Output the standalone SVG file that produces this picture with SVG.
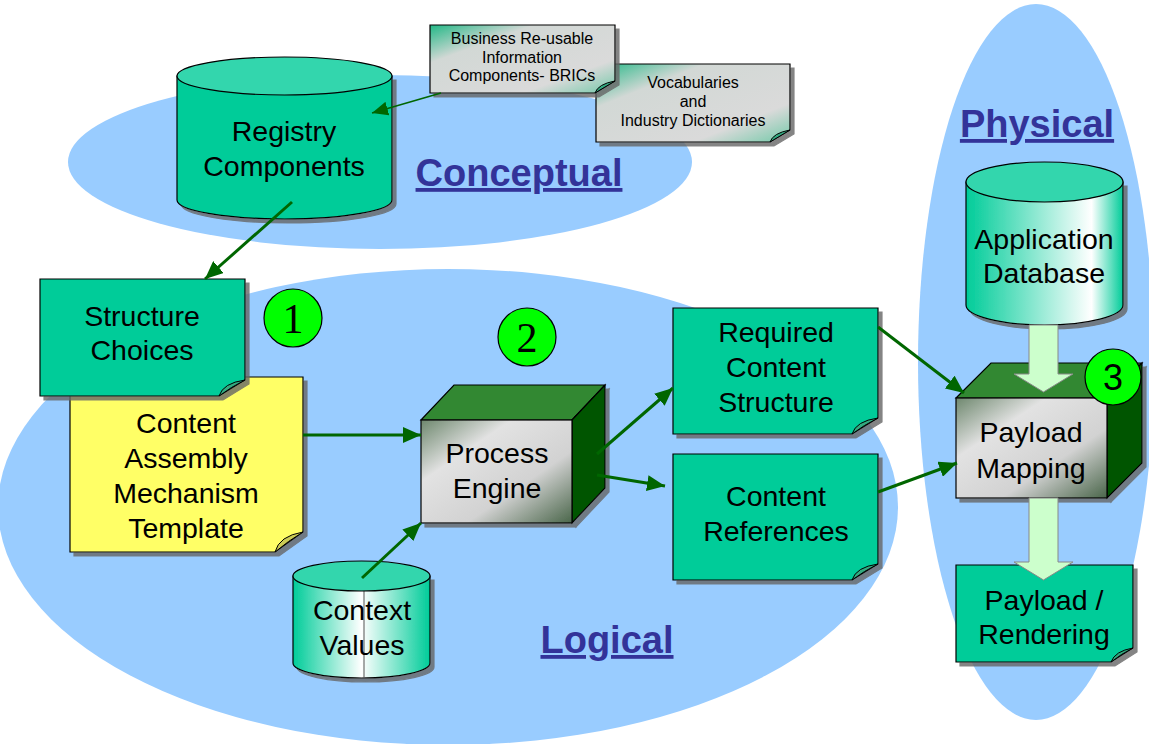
<svg xmlns="http://www.w3.org/2000/svg" width="1149" height="744" viewBox="0 0 1149 744">
<defs>
<style>
.t{font-family:"Liberation Sans",Arial,sans-serif;font-size:28.5px;fill:#000;text-anchor:middle}
.s{font-family:"Liberation Sans",Arial,sans-serif;font-size:16px;fill:#000;text-anchor:middle}
.lab{font-family:"Liberation Sans",Arial,sans-serif;font-size:38px;font-weight:bold;fill:#333399;text-anchor:middle;text-decoration:underline}
.num{font-family:"Liberation Serif","Times New Roman",serif;font-size:42px;fill:#000;text-anchor:middle}
.ell{fill:#99CCFF}
.ol{stroke:#000;stroke-width:1.2}
.gn{fill:#00CC99}
.fold{fill:#33AA80;stroke:#000;stroke-width:1}
.con{stroke:#006600;stroke-width:3;fill:none}
.blk{fill:#CCFFCC;stroke:#888;stroke-width:1}
.circ{fill:#00FF00;stroke:#000;stroke-width:1.2}
</style>
<filter id="sh" x="-10%" y="-10%" width="130%" height="130%">
<feDropShadow dx="4" dy="4" stdDeviation="0.6" flood-color="#666" flood-opacity="0.8"/>
</filter>
<linearGradient id="gnote" x1="0" y1="0" x2="1" y2="1">
<stop offset="0" stop-color="#22B886"/>
<stop offset="0.28" stop-color="#D2D8D5"/>
<stop offset="0.75" stop-color="#DADADA"/>
<stop offset="1" stop-color="#72C9A8"/>
</linearGradient>
<linearGradient id="gcube" x1="0" y1="0" x2="1" y2="1">
<stop offset="0" stop-color="#6E886E"/>
<stop offset="0.3" stop-color="#E2E2E2"/>
<stop offset="0.65" stop-color="#D2D2D2"/>
<stop offset="1" stop-color="#4A664A"/>
</linearGradient>
<linearGradient id="gcv" x1="0" y1="0" x2="1" y2="0">
<stop offset="0" stop-color="#00CC99"/>
<stop offset="0.5" stop-color="#FFFFFF"/>
<stop offset="1" stop-color="#00CC99"/>
</linearGradient>
<linearGradient id="gdb" x1="0" y1="0" x2="1" y2="0">
<stop offset="0" stop-color="#00CC99"/>
<stop offset="0.8" stop-color="#FFFFFF"/>
<stop offset="1" stop-color="#00CC99"/>
</linearGradient>
<marker id="ah" markerUnits="userSpaceOnUse" markerWidth="20" markerHeight="16" refX="18" refY="8" orient="auto">
<path d="M0,0 L18,8 L0,16 Z" fill="#006600"/>
</marker>
<marker id="ahs" markerUnits="userSpaceOnUse" markerWidth="18" markerHeight="14" refX="16" refY="7" orient="auto">
<path d="M0,0 L16,7 L0,14 Z" fill="#006600"/>
</marker>
</defs>

<rect width="1149" height="744" fill="#FFFFFF"/>

<g id="regions">
<ellipse class="ell" cx="380" cy="162" rx="312" ry="87"/>
<ellipse class="ell" cx="448" cy="507" rx="450" ry="238"/>
<ellipse class="ell" cx="1036" cy="362" rx="118" ry="358"/>
<text class="lab" x="519" y="186">Conceptual</text>
<text class="lab" x="607" y="653">Logical</text>
<text class="lab" x="1037" y="137">Physical</text>
</g>

<g id="registry">
<path class="gn ol" filter="url(#sh)" d="M177,76 V200 A107.5,19 0 0 0 392,200 V76 Z"/>
<ellipse cx="284.5" cy="76" rx="107.5" ry="19" fill="#33D6AD" stroke="#000" stroke-width="1.2"/>
<text class="t" x="284" y="141">Registry</text>
<text class="t" x="284" y="176">Components</text>
</g>

<g id="vocab">
<path filter="url(#sh)" fill="url(#gnote)" class="ol" d="M596,64 H790 V130 L770,142 H596 Z"/>
<path class="fold" d="M770,142 Q773,133 790,130 Q780,136 770,142 Z"/>
<text class="s" x="693" y="88">Vocabularies</text>
<text class="s" x="693" y="107">and</text>
<text class="s" x="693" y="126">Industry Dictionaries</text>
</g>

<g id="brics">
<path filter="url(#sh)" fill="url(#gnote)" class="ol" d="M430,25 H615 V81 L595,93 H430 Z"/>
<path class="fold" d="M595,93 Q598,84 615,81 Q605,87 595,93 Z"/>
<text class="s" x="522" y="44">Business Re-usable</text>
<text class="s" x="522" y="63">Information</text>
<text class="s" x="522" y="81">Components- BRICs</text>
</g>

<g id="cam">
<path filter="url(#sh)" fill="#FFFF66" class="ol" d="M70,377 H303 V532 L275,552 H70 Z"/>
<path d="M275,552 Q279,536 303,532 Q288,541 275,552 Z" fill="#CCCC55" stroke="#000" stroke-width="1"/>
<text class="t" x="186" y="433">Content</text>
<text class="t" x="186" y="468">Assembly</text>
<text class="t" x="186" y="503">Mechanism</text>
<text class="t" x="186" y="538">Template</text>
</g>

<g id="structure">
<path filter="url(#sh)" class="gn ol" d="M40,279 H245 V380 L219,396 H40 Z"/>
<path class="fold" d="M219,396 Q223,383 245,380 Q231,387 219,396 Z"/>
<text class="t" x="142" y="326">Structure</text>
<text class="t" x="142" y="360">Choices</text>
</g>

<g id="engine">
<g filter="url(#sh)">
<path d="M421,420 L454,385 H605 L572,420 Z" fill="#338833" class="ol"/>
<path d="M572,420 L605,385 V488 L572,523 Z" fill="#005500" class="ol"/>
<rect x="421" y="420" width="151" height="103" fill="url(#gcube)" class="ol"/>
</g>
<text class="t" x="497" y="463">Process</text>
<text class="t" x="497" y="498">Engine</text>
</g>

<g id="context">
<path fill="url(#gcv)" class="ol" filter="url(#sh)" d="M293,576 V663 A68.5,15 0 0 0 430,663 V576 Z"/>
<line x1="364" y1="591" x2="364" y2="678" stroke="#555" stroke-width="1"/>
<ellipse cx="361.5" cy="576" rx="68.5" ry="15" fill="#33D6AD" stroke="#000" stroke-width="1.2"/>
<text class="t" x="362" y="620">Context</text>
<text class="t" x="362" y="655">Values</text>
</g>

<g id="required">
<path filter="url(#sh)" class="gn ol" d="M673,308 H878 V418 L852,434 H673 Z"/>
<path class="fold" d="M852,434 Q856,421 878,418 Q864,425 852,434 Z"/>
<text class="t" x="776" y="342">Required</text>
<text class="t" x="776" y="377">Content</text>
<text class="t" x="776" y="412">Structure</text>
</g>

<g id="refs">
<path filter="url(#sh)" class="gn ol" d="M673,454 H878 V564 L852,580 H673 Z"/>
<path class="fold" d="M852,580 Q856,567 878,564 Q864,571 852,580 Z"/>
<text class="t" x="776" y="506">Content</text>
<text class="t" x="776" y="541">References</text>
</g>

<g id="appdb">
<path fill="url(#gdb)" class="ol" filter="url(#sh)" d="M966,182 V305 A78.5,20 0 0 0 1123,305 V182 Z"/>
<ellipse cx="1044.5" cy="182" rx="78.5" ry="20" fill="#33D6AD" stroke="#000" stroke-width="1.2"/>
<text class="t" x="1044" y="249">Application</text>
<text class="t" x="1044" y="283">Database</text>
</g>

<g id="mapping">
<g filter="url(#sh)">
<path d="M956,398 L991,363 H1142 L1107,398 Z" fill="#338833" class="ol"/>
<path d="M1107,398 L1142,363 V463 L1107,498 Z" fill="#005500" class="ol"/>
<rect x="956" y="398" width="151" height="100" fill="url(#gcube)" class="ol"/>
</g>
<text class="t" x="1031" y="442">Payload</text>
<text class="t" x="1031" y="478">Mapping</text>
</g>

<g id="rendering">
<path filter="url(#sh)" class="gn ol" d="M956,565 H1133 V648 L1111,662 H956 Z"/>
<path class="fold" d="M1111,662 Q1115,651 1133,648 Q1121,654 1111,662 Z"/>
<text class="t" x="1044" y="610">Payload /</text>
<text class="t" x="1044" y="644">Rendering</text>
</g>

<g id="connectors">
<line x1="441" y1="93" x2="372" y2="113" stroke="#006600" stroke-width="1.5" marker-end="url(#ahs)"/>
<line class="con" x1="292" y1="202" x2="205" y2="279" marker-end="url(#ah)"/>
<line class="con" x1="303" y1="435" x2="421" y2="435" marker-end="url(#ah)"/>
<line class="con" x1="362" y1="578" x2="421" y2="523" marker-end="url(#ah)"/>
<line class="con" x1="597" y1="454" x2="673" y2="388" marker-end="url(#ah)"/>
<line class="con" x1="597" y1="475" x2="665" y2="486" marker-end="url(#ah)"/>
<line class="con" x1="878" y1="327" x2="964" y2="393" marker-end="url(#ah)"/>
<line class="con" x1="878" y1="492" x2="957" y2="463" marker-end="url(#ah)"/>
<polygon class="blk" points="1029,325 1058,325 1058,374 1073,374 1043.5,392 1014,374 1029,374"/>
<polygon class="blk" points="1029,498 1058,498 1058,562 1073,562 1043.5,580 1014,562 1029,562"/>
</g>

<g id="step1"><circle class="circ" cx="293" cy="318" r="29"/><text class="num" x="293" y="333">1</text></g>
<g id="step2"><circle class="circ" cx="527" cy="337" r="29"/><text class="num" x="527" y="352">2</text></g>
<g id="step3"><circle class="circ" cx="1113" cy="377" r="28"/><text class="t" style="font-size:36px" x="1113" y="390">3</text></g>
</svg>
